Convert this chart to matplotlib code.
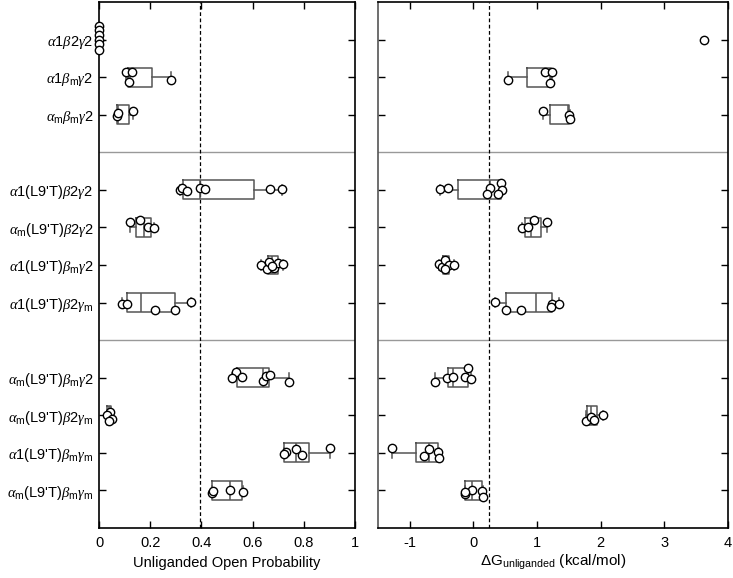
import matplotlib
matplotlib.use('Agg')
import matplotlib.pyplot as plt

plt.rcParams['font.family'] = ['Liberation Sans', 'DejaVu Sans']
plt.rcParams['mathtext.fontset'] = 'custom'
plt.rcParams['mathtext.rm'] = 'Liberation Sans'
plt.rcParams['mathtext.it'] = 'Liberation Serif:italic'
plt.rcParams['mathtext.bf'] = 'Liberation Sans:bold'
plt.rcParams['axes.unicode_minus'] = False

labels = [
    r'$\alpha$1$\beta$2$\gamma$2',
    r'$\alpha$1$\beta_{\mathrm{m}}\gamma$2',
    r'$\alpha_{\mathrm{m}}\beta_{\mathrm{m}}\gamma$2',
    r"$\alpha$1(L9'T)$\beta$2$\gamma$2",
    r"$\alpha_{\mathrm{m}}$(L9'T)$\beta$2$\gamma$2",
    r"$\alpha$1(L9'T)$\beta_{\mathrm{m}}\gamma$2",
    r"$\alpha$1(L9'T)$\beta$2$\gamma_{\mathrm{m}}$",
    r"$\alpha_{\mathrm{m}}$(L9'T)$\beta_{\mathrm{m}}\gamma$2",
    r"$\alpha_{\mathrm{m}}$(L9'T)$\beta$2$\gamma_{\mathrm{m}}$",
    r"$\alpha$1(L9'T)$\beta_{\mathrm{m}}\gamma_{\mathrm{m}}$",
    r"$\alpha_{\mathrm{m}}$(L9'T)$\beta_{\mathrm{m}}\gamma_{\mathrm{m}}$",
]
# rows from top, with a gap row between the three groups
rows = [1, 2, 3, 5, 6, 7, 8, 10, 11, 12, 13]
group_lines = [4, 9]

# unliganded open probability, individual cells
po_values = [
    [0, 0, 0, 0, 0, 0],
    [0.107, 0.129, 0.116, 0.283],
    [0.070, 0.074, 0.133],
    [0.316, 0.325, 0.342, 0.394, 0.415, 0.668, 0.714],
    [0.123, 0.162, 0.192, 0.214],
    [0.631, 0.658, 0.665, 0.684, 0.700, 0.717, 0.674],
    [0.091, 0.109, 0.218, 0.296, 0.358],
    [0.535, 0.518, 0.559, 0.639, 0.654, 0.668, 0.741],
    [0.042, 0.033, 0.051, 0.039],
    [0.729, 0.722, 0.768, 0.794, 0.902],
    [0.441, 0.446, 0.511, 0.561],
]
po_jitter = [
    [-0.36, -0.25, -0.12, 0.0, 0.13, 0.27],
    [-0.14, -0.14, 0.14, 0.07],
    [0.04, -0.04, -0.11],
    [0.0, -0.045, 0.025, -0.06, -0.025, -0.025, -0.025],
    [-0.14, -0.195, 0.0, 0.02],
    [0.0, 0.10, -0.08, 0.07, -0.06, -0.035, 0.025],
    [0.045, 0.035, 0.195, 0.195, -0.02],
    [-0.14, 0.02, -0.01, 0.10, -0.05, -0.08, 0.105],
    [-0.10, -0.01, 0.09, 0.16],
    [-0.025, 0.035, -0.115, 0.06, -0.14],
    [0.06, 0.025, -0.01, 0.035],
]
# box stats: whisker low, q1, median, q3, whisker high
po_box = [
    [0, 0, 0, 0, 0],
    [0.107, 0.113, 0.122, 0.207, 0.283],
    [0.070, 0.072, 0.075, 0.119, 0.133],
    [0.316, 0.329, 0.394, 0.605, 0.714],
    [0.123, 0.143, 0.175, 0.202, 0.214],
    [0.631, 0.661, 0.676, 0.698, 0.717],
    [0.091, 0.108, 0.166, 0.297, 0.358],
    [0.518, 0.541, 0.639, 0.665, 0.741],
    [0.033, 0.033, 0.040, 0.047, 0.051],
    [0.722, 0.722, 0.768, 0.821, 0.902],
    [0.441, 0.443, 0.511, 0.559, 0.561],
]

# unliganded free energy (kcal/mol)
dg_values = [
    [3.62],
    [0.542, 1.132, 1.237, 1.195],
    [1.10, 1.495, 1.516],
    [-0.526, -0.405, 0.253, 0.21, 0.437, 0.453, 0.39],
    [0.763, 0.853, 0.958, 1.158],
    [-0.537, -0.495, -0.447, -0.379, -0.305, -0.442],
    [0.342, 0.505, 0.747, 1.242, 1.221, 1.337],
    [-0.6, -0.416, -0.326, -0.132, -0.084, -0.037],
    [1.768, 1.842, 1.9, 2.03],
    [-1.284, -0.779, -0.695, -0.558, -0.537],
    [-0.137, -0.021, 0.132, 0.147, -0.126],
]
dg_jitter = [
    [0.0],
    [0.07, -0.14, -0.125, 0.16],
    [-0.105, 0.0, 0.105],
    [-0.02, -0.045, -0.06, 0.10, -0.195, 0.0, 0.115],
    [0.02, -0.02, -0.195, -0.14],
    [-0.035, 0.05, -0.125, 0.0, 0.0, 0.10],
    [-0.02, 0.195, 0.195, 0.035, 0.105, 0.045],
    [0.105, 0.02, -0.01, -0.01, -0.25, 0.035],
    [0.14, 0.05, 0.115, -0.02],
    [-0.14, 0.09, -0.115, -0.02, 0.15],
    [0.105, -0.02, 0.025, 0.17, 0.045],
]
dg_box = [
    None,
    [0.542, 0.837, 1.195, 1.216, 1.237],
    [1.10, 1.20, 1.49, 1.505, 1.516],
    [-0.526, -0.247, 0.253, 0.426, 0.453],
    [0.763, 0.81, 0.90, 1.058, 1.158],
    [-0.537, -0.484, -0.44, -0.39, -0.305],
    [0.342, 0.51, 0.99, 1.242, 1.337],
    [-0.6, -0.395, -0.316, -0.089, -0.037],
    [1.768, 1.79, 1.85, 1.937, 2.03],
    [-1.284, -0.905, -0.695, -0.553, -0.537],
    [-0.137, -0.137, -0.016, 0.137, 0.147],
]

po_threshold = 0.394
dg_threshold = 0.247

fig = plt.figure(figsize=(7.33, 5.78), dpi=100)
ax1 = fig.add_axes([99 / 733, 50 / 578, 256 / 733, 526 / 578])
ax2 = fig.add_axes([378 / 733, 50 / 578, 350 / 733, 526 / 578])

box_color = '#555555'


def draw_panel(ax, values, jitter, boxes):
    stats = []
    pos = []
    for r, b in zip(rows, boxes):
        if b is None:
            continue
        stats.append(dict(whislo=b[0], q1=b[1], med=b[2], q3=b[3], whishi=b[4], fliers=[]))
        pos.append(r)
    style = dict(color=box_color, linewidth=1.1)
    ax.bxp(stats, positions=pos, vert=False, widths=0.5, capwidths=0.25,
           showfliers=False, boxprops=style, whiskerprops=style,
           capprops=style, medianprops=style, manage_ticks=False)
    for r, vals, jit in zip(rows, values, jitter):
        ax.plot(vals, [r + j for j in jit], 'o', ms=6, mfc='white', mec='black',
                mew=1.0, zorder=3, clip_on=False)
    for g in group_lines:
        ax.axhline(g, color='#999999', lw=1.0, zorder=1)
    ax.set_ylim(14, 0)
    ax.set_yticks(rows)
    ax.tick_params(direction='in', length=5, width=1, labelsize=10.5, pad=6,
                   top=True, left=True, right=True)
    for s in ax.spines.values():
        s.set_linewidth(1.2)


draw_panel(ax1, po_values, po_jitter, po_box)
ax1.axvline(po_threshold, color='black', ls=(0, (3, 2)), lw=0.9, zorder=1)
ax1.set_xlim(0, 1)
ax1.set_xticks([0, 0.2, 0.4, 0.6, 0.8, 1])
ax1.set_xticklabels(['0', '0.2', '0.4', '0.6', '0.8', '1'])
ax1.set_yticklabels(labels)
ax1.tick_params(axis='y', labelsize=10.5, pad=4)
ax1.set_xlabel('Unliganded Open Probability', fontsize=10.5, labelpad=4)

draw_panel(ax2, dg_values, dg_jitter, dg_box)
ax2.axvline(dg_threshold, color='black', ls=(0, (3, 2)), lw=0.9, zorder=1)
ax2.set_xlim(-1.5, 4)
ax2.set_xticks([-1, 0, 1, 2, 3, 4])
ax2.set_yticklabels([])
ax2.spines['left'].set_color('#555555')
ax2.set_xlabel(r'ΔG$_{\mathrm{unliganded}}$ (kcal/mol)', fontsize=11, labelpad=2)

fig.savefig('out.png', dpi=100)
